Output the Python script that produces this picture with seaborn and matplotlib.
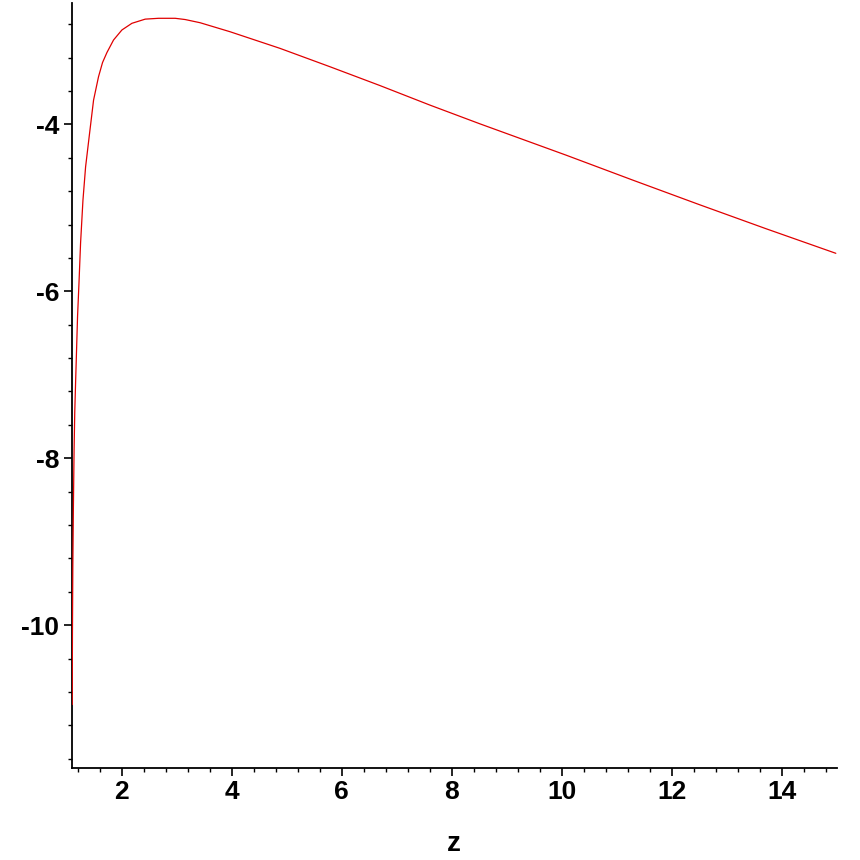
import numpy as np
import pandas as pd
import matplotlib
matplotlib.use("Agg")
import matplotlib.pyplot as plt
import seaborn as sns
from matplotlib.ticker import FixedLocator

# Values
z_values = [1.104, 1.108, 1.115, 1.125, 1.138, 1.150, 1.165, 1.183, 1.201, 1.227,
            1.256, 1.299, 1.347, 1.419, 1.492, 1.582, 1.655, 1.735, 1.855, 2.007,
            2.189, 2.431, 2.673, 2.976, 3.158, 3.428, 3.973, 4.880, 5.788, 6.695,
            7.603, 8.510, 10.084, 11.292, 12.503, 13.713, 14.984]
f_values = [-10.95, -10.10, -9.30, -8.60, -7.90, -7.45, -7.10, -6.70, -6.30, -5.90,
            -5.42, -4.91, -4.51, -4.11, -3.71, -3.43, -3.26, -3.14, -2.99, -2.87,
            -2.79, -2.74, -2.73, -2.73, -2.745, -2.783, -2.891, -3.090, -3.310, -3.535,
            -3.769, -3.993, -4.370, -4.668, -4.962, -5.250, -5.545]
x_ticks = [2, 4, 6, 8, 10, 12, 14]
y_ticks = [-10, -8, -6, -4]
x_label = "z"

df = pd.DataFrame({"z": z_values, "f": f_values})

sns.set_theme(style="white")
plt.rcParams['font.family'] = ['Liberation Sans', 'DejaVu Sans']
plt.rcParams['text.color'] = 'black'
plt.rcParams['axes.labelcolor'] = 'black'
plt.rcParams['xtick.color'] = 'black'
plt.rcParams['ytick.color'] = 'black'

fig = plt.figure(figsize=(8.6, 8.6), dpi=100)
ax = fig.add_axes([0.0834, 0.107, 0.9729 - 0.0834, 0.9962 - 0.107])

sns.lineplot(data=df, x="z", y="f", ax=ax, color="#e00000", linewidth=0.9,
             sort=False, estimator=None, zorder=3)

ax.set_xlim(1.095, 15.0)
ax.set_ylim(-11.71, -2.55)

ax.set_xticks(x_ticks)
ax.set_yticks(y_ticks)
ax.xaxis.set_minor_locator(FixedLocator(np.arange(1.2, 15.0, 0.4)))
ax.yaxis.set_minor_locator(FixedLocator(np.arange(-11.6, -2.55, 0.4)))
ax.set_xticklabels([str(t) for t in x_ticks], fontsize=19, fontweight="bold", color="black")
ax.set_yticklabels([str(t) for t in y_ticks], fontsize=19, fontweight="bold", color="black")

ax.tick_params(axis="both", which="major", direction="out", length=6, width=1.2,
               color="black", pad=3, bottom=True, left=True)
ax.tick_params(axis="both", which="minor", direction="out", length=3, width=1.0,
               color="black", bottom=True, left=True)

for side in ["top", "right"]:
    ax.spines[side].set_visible(False)
for side in ["left", "bottom"]:
    ax.spines[side].set_color("black")
    ax.spines[side].set_linewidth(1.3)

ax.set_xlabel(x_label, fontsize=20, fontweight="bold", labelpad=19, color="black")
ax.set_ylabel("")
ax.grid(False)

fig.savefig("out.png", dpi=100, facecolor="white")
